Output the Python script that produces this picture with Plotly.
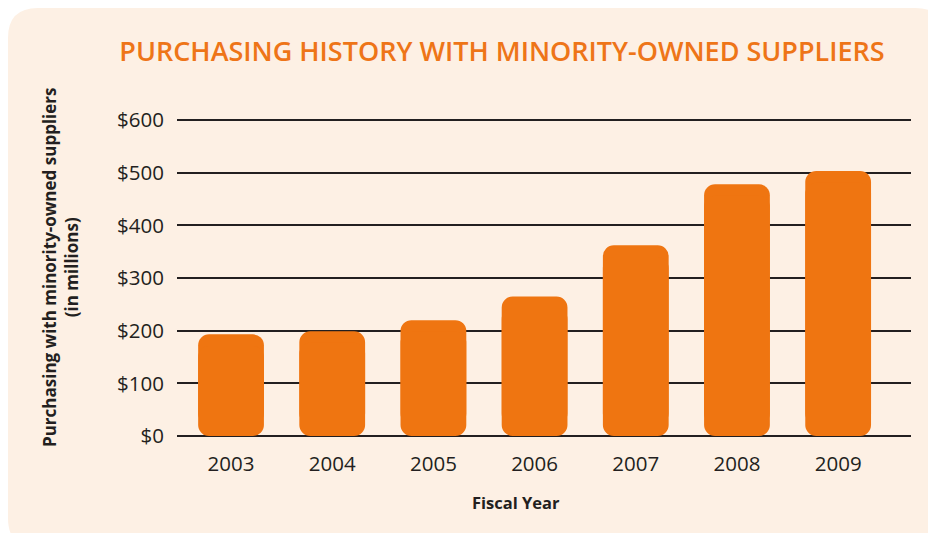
import plotly.graph_objects as go

years = ["2003", "2004", "2005", "2006", "2007", "2008", "2009"]
values = [193, 199, 220, 265, 362, 478, 503]
tick_vals = [0, 100, 200, 300, 400, 500, 600]
tick_text = ["$0", "$100", "$200", "$300", "$400", "$500", "$600"]

W, H = 928, 533
L, R, T, B = 177, 17, 118, 95
PW, PH = W - L - R, H - T - B

BAR = "#EF7511"
PANEL = "#FDF0E4"
INK = "#231F20"
FONT = "'Open Sans', Lato, sans-serif"
CORNER = 22  # overlap of the two bar halves (data units), style only

def px_x(px):
    return (px - L) / PW

def px_y(py):
    return (H - B - py) / PH

fig = go.Figure()
# upper part: rounded at top
fig.add_trace(go.Bar(
    x=years, y=[v - CORNER for v in values], base=[CORNER] * len(values),
    marker=dict(color=BAR, line=dict(width=0), cornerradius=11),
    width=0.65, hoverinfo="skip", showlegend=False))
# lower part: rounded at bottom
fig.add_trace(go.Bar(
    x=years, y=[-(v - CORNER) for v in values], base=[v - CORNER for v in values],
    marker=dict(color=BAR, line=dict(width=0), cornerradius=11),
    width=0.65, hoverinfo="skip", showlegend=False))

# rounded panel background (page pixel coords)
x0, x1, y0, y1 = 8, 945, 8, 548
r = 30
def P(px, py):
    return f"{px_x(px):.5f},{px_y(py):.5f}"
path = (f"M {P(x0 + r, y0)} L {P(x1 - r, y0)} Q {P(x1, y0)} {P(x1, y0 + r)} "
        f"L {P(x1, y1 - r)} Q {P(x1, y1)} {P(x1 - r, y1)} "
        f"L {P(x0 + r, y1)} Q {P(x0, y1)} {P(x0, y1 - r)} "
        f"L {P(x0, y0 + r)} Q {P(x0, y0)} {P(x0 + r, y0)} Z")

fig.update_layout(
    width=W, height=H,
    margin=dict(l=L, r=R, t=T, b=B),
    paper_bgcolor="white", plot_bgcolor="rgba(0,0,0,0)",
    barmode="overlay",
    shapes=[dict(type="path", xref="paper", yref="paper", path=path,
                 fillcolor=PANEL, line=dict(width=0), layer="below")],
    title=dict(text="PURCHASING HISTORY WITH MINORITY-OWNED SUPPLIERS",
               x=502 / W, xanchor="center", y=1 - 52 / H, yanchor="middle",
               font=dict(family=FONT, size=27, color="#EE7518", weight=600)),
    xaxis=dict(type="category", range=[-0.534, 6.72], showgrid=False,
               zeroline=False, showline=False, ticks="",
               tickfont=dict(family=FONT, size=20.5, color=INK),
               ticklabelstandoff=11),
    yaxis=dict(range=[-3.8, 603.8], tickvals=tick_vals, ticktext=tick_text,
               showgrid=True, gridcolor=INK, gridwidth=1.5,
               zeroline=False, showline=False, ticks="",
               tickfont=dict(family=FONT, size=20.5, color=INK),
               ticklabelstandoff=12),
    annotations=[
        dict(text="Fiscal Year", xref="paper", yref="paper",
             x=px_x(516), y=px_y(502), xanchor="center", yanchor="middle",
             showarrow=False, font=dict(family=FONT, size=16.5, color=INK, weight="bold")),
        dict(text="Purchasing with minority-owned suppliers<br>(in millions)",
             xref="paper", yref="paper", x=px_x(60), y=px_y(267),
             xanchor="center", yanchor="middle", textangle=-90, showarrow=False,
             font=dict(family=FONT, size=17, color=INK, weight="bold")),
    ],
)

fig.write_html("out.html", config={"displayModeBar": False},
               post_script="document.body.style.margin='0';")
